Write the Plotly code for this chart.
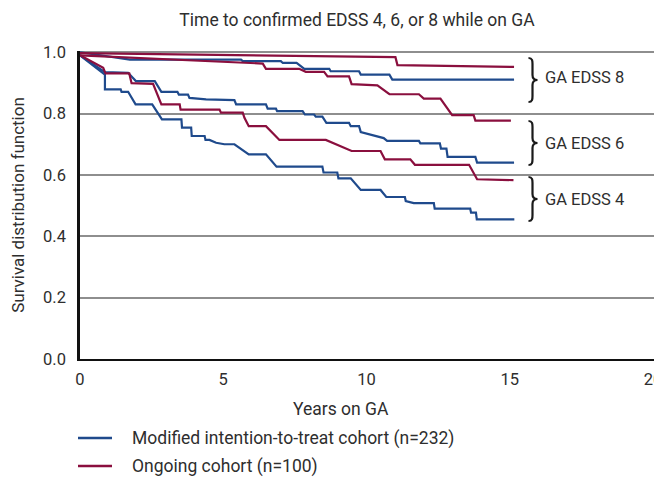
import plotly.graph_objects as go

# ---------------- data ----------------
mitt_edss8_t = [0, 1.74, 5.62, 5.68, 7.01, 7.08, 7.56, 7.83, 8.70, 8.75, 9.74, 9.80, 10.80, 10.90, 15.15]
mitt_edss8_v = [1.0, 0.976, 0.976, 0.971, 0.971, 0.965, 0.965, 0.946, 0.946, 0.938, 0.938, 0.927, 0.927, 0.911, 0.911]

ongo_edss8_t = [0, 5.0, 11.01, 11.08, 15.15]
ongo_edss8_v = [0.997, 0.99, 0.984, 0.958, 0.952]

mitt_edss6_t = [0, 0.87, 1.68, 1.95, 2.61, 2.84, 3.40, 3.45, 3.77, 3.82, 4.40, 5.39, 5.45, 6.49, 6.55, 6.84,
                6.88, 7.77, 7.85, 8.17, 8.23, 8.46, 8.60, 9.39, 9.45, 9.74, 9.80, 10.0, 10.3, 10.6, 10.72,
                11.83, 11.88, 12.56, 12.60, 12.79, 12.83, 13.80, 13.86, 15.15]
mitt_edss6_v = [0.99, 0.935, 0.933, 0.906, 0.906, 0.871, 0.871, 0.862, 0.862, 0.851, 0.846, 0.844, 0.830, 0.830,
                0.816, 0.816, 0.808, 0.808, 0.797, 0.797, 0.790, 0.790, 0.770, 0.770, 0.759, 0.759, 0.740, 0.735,
                0.725, 0.720, 0.711, 0.711, 0.703, 0.703, 0.686, 0.686, 0.659, 0.659, 0.640, 0.640]

ongo_edss6_t = [0, 5.04, 6.38, 6.49, 7.65, 7.88, 8.52, 8.64, 9.39, 9.48, 10.38, 10.80, 11.83, 12.0, 12.58,
                12.99, 13.74, 13.80, 15.04]
ongo_edss6_v = [0.99, 0.967, 0.963, 0.946, 0.946, 0.936, 0.936, 0.921, 0.921, 0.896, 0.892, 0.863, 0.863,
                0.849, 0.849, 0.795, 0.795, 0.777, 0.777]

mitt_edss4_t = [0, 0.87, 0.87, 1.42, 1.45, 1.68, 1.94, 2.52, 2.86, 3.54, 3.56, 3.88, 3.90, 4.35, 4.38, 4.52,
                4.75, 5.04, 5.39, 5.89, 6.49, 6.86, 8.46, 8.50, 8.98, 9.02, 9.45, 9.50, 9.80, 10.49, 10.69,
                11.34, 11.37, 11.65, 12.35, 12.38, 13.62, 13.65, 13.82, 13.85, 15.16]
mitt_edss4_v = [0.99, 0.927, 0.879, 0.879, 0.871, 0.871, 0.830, 0.830, 0.781, 0.781, 0.754, 0.754, 0.727,
                0.727, 0.714, 0.714, 0.705, 0.700, 0.700, 0.667, 0.667, 0.627, 0.627, 0.608, 0.608, 0.589,
                0.589, 0.583, 0.551, 0.551, 0.528, 0.528, 0.515, 0.508, 0.508, 0.490, 0.490, 0.477, 0.477,
                0.455, 0.455]

ongo_edss4_t = [0, 0.81, 0.89, 1.72, 1.80, 2.55, 2.84, 3.48, 3.51, 4.87, 4.92, 5.68, 5.74, 5.89, 6.49, 6.96,
                8.58, 9.48, 10.49, 10.64, 11.53, 11.69, 13.58, 13.86, 15.13]
ongo_edss4_v = [0.99, 0.949, 0.931, 0.931, 0.899, 0.897, 0.830, 0.830, 0.813, 0.813, 0.803, 0.803, 0.786,
                0.759, 0.759, 0.714, 0.714, 0.678, 0.678, 0.651, 0.651, 0.633, 0.633, 0.586, 0.583]

x_ticks = [0, 5, 10, 15, 20]
y_ticks = [0.0, 0.2, 0.4, 0.6, 0.8, 1.0]
group_labels = ["GA EDSS 8", "GA EDSS 6", "GA EDSS 4"]
series_names = ["Modified intention-to-treat cohort (n=232)", "Ongoing cohort (n=100)"]

# ---------------- styling ----------------
BLUE = "#1f4a8c"
RED = "#8a0f3e"
TXT = "#2e2e2e"
FONT = "Roboto, Arial, sans-serif"

OFF = 8                      # page body margin (screen px -> figure px)
W, H = 662 - OFF, 481 - OFF
L, R, T = 80 - OFF, 0, 51 - OFF
B = H - (359 - OFF)
PW, PH = W - L - R, H - T - B
YTOP = 1.004
PX_PER_YEAR = 28.65


def px(xs):
    """screen x -> paper x"""
    return (xs - OFF - L) / PW


def py(ys):
    """screen y -> paper y"""
    return (H - B - (ys - OFF)) / PH


fig = go.Figure()

curves = [
    (mitt_edss8_t, mitt_edss8_v, BLUE, series_names[0]),
    (ongo_edss8_t, ongo_edss8_v, RED, series_names[1]),
    (mitt_edss6_t, mitt_edss6_v, BLUE, series_names[0]),
    (ongo_edss6_t, ongo_edss6_v, RED, series_names[1]),
    (mitt_edss4_t, mitt_edss4_v, BLUE, series_names[0]),
    (ongo_edss4_t, ongo_edss4_v, RED, series_names[1]),
]
for t, v, c, name in curves:
    fig.add_trace(go.Scatter(x=t, y=v, mode="lines", line=dict(color=c, width=2.2),
                             name=name, legendgroup=name, showlegend=False, cliponaxis=False,
                             hoverinfo="skip"))

# emphasised 0.8 gridline
fig.add_shape(type="line", xref="paper", yref="y", x0=0, x1=1, y0=0.8, y1=0.8,
              line=dict(color="#111111", width=1.2), layer="between")

# braces + group labels
brace_centers = [80, 143, 199]
label_centers = [77, 143, 199]
for bc, lc, lab in zip(brace_centers, label_centers, group_labels):
    xb = 532.5
    top, bot = bc - 22, bc + 22
    path = (f"M {px(xb-4)},{py(top)} C {px(xb)},{py(top)} {px(xb)},{py(top+3)} {px(xb)},{py(top+6)} "
            f"L {px(xb)},{py(bc-5)} C {px(xb)},{py(bc-1)} {px(xb+2)},{py(bc)} {px(xb+5)},{py(bc)} "
            f"C {px(xb+2)},{py(bc)} {px(xb)},{py(bc+1)} {px(xb)},{py(bc+5)} "
            f"L {px(xb)},{py(bot-6)} C {px(xb)},{py(bot-3)} {px(xb)},{py(bot)} {px(xb-4)},{py(bot)}")
    fig.add_shape(type="path", xref="paper", yref="paper", path=path,
                  line=dict(color="#1a1a1a", width=2.2))
    fig.add_annotation(text=lab, xref="paper", yref="paper", x=px(543), y=py(lc),
                       xanchor="left", yanchor="middle", showarrow=False,
                       font=dict(family=FONT, size=16.5, color=TXT))

# x-axis title
fig.add_annotation(text="Years on GA", xref="paper", yref="paper", x=px(341), y=py(409),
                   xanchor="center", yanchor="middle", showarrow=False,
                   font=dict(family=FONT, size=17.5, color=TXT))

# legend (drawn by hand to match the reference's spacing)
legend_rows = [(series_names[0], BLUE, 438), (series_names[1], RED, 466)]
for name, col, yy in legend_rows:
    fig.add_shape(type="line", xref="paper", yref="paper", x0=px(78), x1=px(112),
                  y0=py(yy), y1=py(yy), line=dict(color=col, width=2.5))
    fig.add_annotation(text=name, xref="paper", yref="paper", x=px(130), y=py(yy),
                       xanchor="left", yanchor="middle", showarrow=False,
                       font=dict(family=FONT, size=17.5, color=TXT))

fig.update_layout(
    width=W, height=H,
    margin=dict(l=L, r=R, t=T, b=B, autoexpand=False),
    paper_bgcolor="white", plot_bgcolor="white",
    font=dict(family=FONT, size=16, color=TXT),
    title=dict(text="Time to confirmed EDSS 4, 6, or 8 while on GA",
               xref="container", yref="container",
               x=(357 - OFF) / W, y=1 - (20 - OFF) / H, xanchor="center", yanchor="middle",
               font=dict(family=FONT, size=17.5, color=TXT)),
    showlegend=False,
)
fig.update_xaxes(range=[0, PW / PX_PER_YEAR], tickvals=x_ticks, ticktext=[str(x) for x in x_ticks],
                 showgrid=False, zeroline=False, showline=True, linecolor="#111111", linewidth=2,
                 ticks="", ticklabelstandoff=4, ticklabeloverflow="allow", automargin=False,
                 tickfont=dict(family=FONT, size=16.5, color=TXT))
fig.update_yaxes(range=[0, YTOP], tickvals=y_ticks, tickformat=".1f",
                 showgrid=True, gridcolor="#8e8e8e", gridwidth=1.6, zeroline=False,
                 showline=True, linecolor="#111111", linewidth=2.5, ticks="", ticklabelstandoff=8,
                 automargin=False,
                 title=dict(text="Survival distribution function", standoff=18,
                            font=dict(family=FONT, size=17, color=TXT)),
                 tickfont=dict(family=FONT, size=16.5, color=TXT))

fig.write_html("out.html")
